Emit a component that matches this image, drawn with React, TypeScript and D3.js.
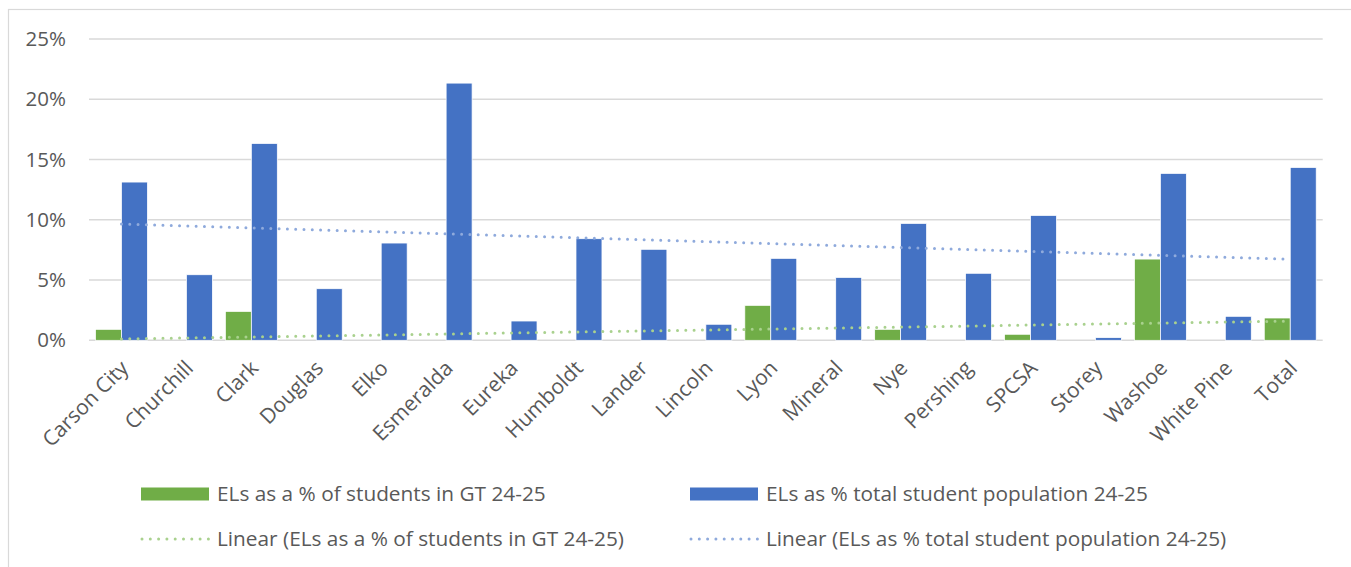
import React from "react";
import * as d3 from "d3";

// Nevada districts, English learners (EL) share, school year 24-25
const districts = [
  "Carson City", "Churchill", "Clark", "Douglas", "Elko", "Esmeralda", "Eureka",
  "Humboldt", "Lander", "Lincoln", "Lyon", "Mineral", "Nye", "Pershing", "SPCSA",
  "Storey", "Washoe", "White Pine", "Total",
];

// ELs as a % of students in GT 24-25
const elsInGT = [
  0.0091, 0, 0.024, 0, 0, 0, 0, 0, 0, 0, 0.029, 0, 0.0091, 0, 0.005, 0, 0.0674, 0, 0.0185,
];

// ELs as % total student population 24-25
const elsTotal = [
  0.1313, 0.0544, 0.1633, 0.0428, 0.0807, 0.2134, 0.016, 0.0843, 0.0755, 0.0133,
  0.068, 0.0522, 0.097, 0.0556, 0.1036, 0.0022, 0.1385, 0.0199, 0.1434,
];

const yTicks = [0, 0.05, 0.1, 0.15, 0.2, 0.25];

const seriesNames = [
  "ELs as a % of students in GT 24-25",
  "ELs as % total student population 24-25",
];

const W = 1351;
const H = 567;
const FONT = "'Open Sans', 'Noto Sans', sans-serif";
const TEXT = "#595959";
const GREEN = "#70AD47";
const BLUE = "#4472C4";
const GREEN_TREND = "#A9D18E";
const BLUE_TREND = "#8FAADC";

// Ordinary least squares over category index 1..n, like a spreadsheet linear trendline
function linearFit(values: number[]) {
  const xs = values.map((_, i) => i + 1);
  const mx = d3.mean(xs) as number;
  const my = d3.mean(values) as number;
  let sxy = 0;
  let sxx = 0;
  xs.forEach((x, i) => {
    sxy += (x - mx) * (values[i] - my);
    sxx += (x - mx) * (x - mx);
  });
  const slope = sxy / sxx;
  const intercept = my - slope * mx;
  return (x: number) => intercept + slope * x;
}

export default function App() {
  const left = 89;
  const right = 1322.7;
  const top = 39;
  const bottom = 340.3;

  const x = d3.scaleBand<string>().domain(districts).range([left, right]).padding(0);
  const inner = d3
    .scaleBand<string>()
    .domain(["gt", "total"])
    .range([0, x.bandwidth()])
    .paddingInner(0)
    .paddingOuter(0.25);
  const y = d3.scaleLinear().domain([0, 0.25]).range([bottom, top]);
  const fmt = d3.format(".0%");

  const center = (d: string) => (x(d) as number) + x.bandwidth() / 2;

  const trendPath = (values: number[]) => {
    const fit = linearFit(values);
    const pts: [number, number][] = [
      [center(districts[0]), y(fit(1))],
      [center(districts[districts.length - 1]), y(fit(districts.length))],
    ];
    return d3.line()(pts) as string;
  };

  const legendRows = [
    { x: 141, y: 494, kind: "bar", color: GREEN, label: seriesNames[0] },
    { x: 690, y: 494, kind: "bar", color: BLUE, label: seriesNames[1] },
    { x: 141, y: 539, kind: "dot", color: GREEN_TREND, label: `Linear (${seriesNames[0]})` },
    { x: 690, y: 539, kind: "dot", color: BLUE_TREND, label: `Linear (${seriesNames[1]})` },
  ];

  return (
    <svg
      width={W}
      height={H}
      viewBox={`0 0 ${W} ${H}`}
      style={{ position: "absolute", left: 0, top: 0, display: "block", background: "#fff" }}
      fontFamily={FONT}
    >
      {/* chart frame */}
      <rect x={8.5} y={9.5} width={W + 20} height={H + 20} fill="none" stroke="#D9D9D9" strokeWidth={1.2} />

      {/* gridlines and y tick labels */}
      {yTicks.map((t) => (
        <g key={t}>
          <line x1={left} x2={right} y1={y(t)} y2={y(t)} stroke="#D9D9D9" strokeWidth={1.5} />
          <text x={66} y={y(t)} dy="0.35em" textAnchor="end" fontSize={20.5} fill={TEXT}>
            {fmt(t)}
          </text>
        </g>
      ))}

      {/* bars */}
      {districts.map((d, i) => (
        <g key={d} transform={`translate(${x(d)},0)`}>
          {elsInGT[i] > 0 && (
            <rect
              x={inner("gt")}
              y={y(elsInGT[i])}
              width={inner.bandwidth()}
              height={y(0) - y(elsInGT[i])}
              fill={GREEN}
              stroke="#fff"
              strokeWidth={0.75}
            />
          )}
          <rect
            x={inner("total")}
            y={y(elsTotal[i])}
            width={inner.bandwidth()}
            height={y(0) - y(elsTotal[i])}
            fill={BLUE}
            stroke="#fff"
            strokeWidth={0.75}
          />
        </g>
      ))}

      {/* linear trendlines */}
      <path
        d={trendPath(elsInGT)}
        fill="none"
        stroke={GREEN_TREND}
        strokeWidth={3}
        strokeLinecap="round"
        strokeDasharray="0 8.3"
      />
      <path
        d={trendPath(elsTotal)}
        fill="none"
        stroke={BLUE_TREND}
        strokeWidth={3}
        strokeLinecap="round"
        strokeDasharray="0 8.3"
      />

      {/* category labels */}
      {districts.map((d) => (
        <text
          key={d}
          transform={`translate(${center(d) + 3},${bottom + 24}) rotate(-45)`}
          textAnchor="end"
          dy="0.35em"
          fontSize={21}
          fill={TEXT}
        >
          {d}
        </text>
      ))}

      {/* legend */}
      {legendRows.map((r) => (
        <g key={r.label}>
          {r.kind === "bar" ? (
            <rect x={r.x} y={r.y - 6.5} width={68} height={13} fill={r.color} />
          ) : (
            <line
              x1={r.x + 1}
              x2={r.x + 68}
              y1={r.y}
              y2={r.y}
              stroke={r.color}
              strokeWidth={3}
              strokeLinecap="round"
              strokeDasharray="0 8.3"
            />
          )}
          <text x={r.x + 76} y={r.y} dy="0.35em" fontSize={20.8} fill={TEXT}>
            {r.label}
          </text>
        </g>
      ))}
    </svg>
  );
}
